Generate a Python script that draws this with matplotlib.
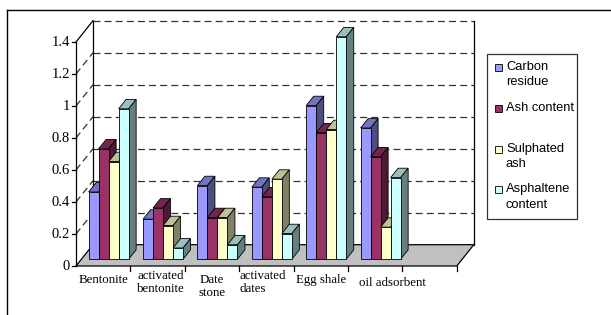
import matplotlib
matplotlib.use("Agg")
import matplotlib.pyplot as plt
from matplotlib.patches import Polygon, Rectangle
from matplotlib.lines import Line2D

# ---------------- data ----------------
categories = ["Bentonite", "activated\nbentonite", "Date\nstone", "activated\ndates", "Egg shale", "oil adsorbent"]
series_names = ["Carbon residue", "Ash content", "Sulphated ash", "Asphaltene content"]
legend_labels = ["Carbon\nresidue", "Ash content", "Sulphated\nash", "Asphaltene\ncontent"]
carbon_residue = [0.42, 0.25, 0.46, 0.45, 0.96, 0.82]
ash_content = [0.69, 0.32, 0.26, 0.39, 0.79, 0.64]
sulphated_ash = [0.61, 0.21, 0.26, 0.50, 0.81, 0.20]
asphaltene_content = [0.94, 0.07, 0.09, 0.16, 1.39, 0.51]
y_ticks = [0, 0.2, 0.4, 0.6, 0.8, 1.0, 1.2, 1.4]
y_tick_labels = ["0", "0.2", "0.4", "0.6", "0.8", "1", "1.2", "1.4"]
n_slots = 7  # category slots on the floor (last one empty)

series = [carbon_residue, ash_content, sulphated_ash, asphaltene_content]

# ---------------- style ----------------
face_c = ['#9999FF', '#993366', '#FFFFCC', '#CCFFFF']
top_c = ['#7373BF', '#73264D', '#BFBF99', '#99BFBF']
side_c = ['#4D4D80', '#4D1A33', '#808066', '#668080']

W, H = 611, 315
PX_X = 54.4   # px per category unit
PX_Y = 160.0  # px per value unit
X0, Y0 = 76, 266  # pixel of data origin (front axis, floor)
DX, DY = 17 / PX_X, 21.3 / PX_Y  # full depth offset in data units
d0, d1 = 0.32, 0.76
bw = 0.184

plt.rcParams['lines.scale_dashes'] = False
serif = ['Liberation Serif', 'DejaVu Serif']
sans = ['Liberation Sans', 'DejaVu Sans']
fs = 9.3
fs_y = 10.5

fig = plt.figure(figsize=(W / 100, H / 100), dpi=100)
ax = fig.add_axes([0, 0, 1, 1])
ax.set_xlim(-X0 / PX_X, (W - X0) / PX_X)
ax.set_ylim(-(H - Y0) / PX_Y, Y0 / PX_Y)
ax.axis('off')


def px(x, y):
    return ((x - X0) / PX_X, (Y0 - y) / PX_Y)


# outer frame (top and left visible)
fig.add_artist(Line2D([7 / W, 1], [1 - 10 / H, 1 - 10 / H], color='black', lw=1.0))
fig.add_artist(Line2D([7 / W, 7 / W], [0, 1 - 10 / H], color='black', lw=1.0))

ymax = y_ticks[-1]
xmax = n_slots
# back wall
ax.add_patch(Polygon([(DX, DY), (xmax + DX, DY), (xmax + DX, ymax + DY), (DX, ymax + DY)],
                     closed=True, facecolor='white', edgecolor='none', zorder=1))
# gridlines on back wall and side wall
grid_kw = dict(color='#333333', lw=0.9, dashes=(5, 3), zorder=2)
for v in y_ticks[1:]:
    ax.plot([DX, xmax + DX], [v + DY, v + DY], **grid_kw)
    if v < ymax:
        ax.plot([0, DX], [v, v + DY], **grid_kw)
# wall edges
ax.plot([DX, DX], [DY, ymax + DY], color='black', lw=0.9, zorder=3)
ax.plot([xmax + DX, xmax + DX], [DY, ymax + DY], color='black', lw=0.9, zorder=3)
ax.plot([0, DX], [ymax, ymax + DY], color='black', lw=0.9, zorder=3)
# floor
ax.add_patch(Polygon([(0, 0), (xmax, 0), (xmax + DX, DY), (DX, DY)], closed=True,
                     facecolor='#C0C0C0', edgecolor='black', lw=0.9, zorder=4))
# front value axis
ax.plot([0, 0], [0, ymax], color='black', lw=0.9, zorder=5)
for v, lab in zip(y_ticks, y_tick_labels):
    ax.plot([-4 / PX_X, 0], [v, v], color='black', lw=0.9, zorder=5)
    ax.text(-6 / PX_X, v, lab, ha='right', va='center', fontsize=fs_y, family=serif)
# category ticks
for i in range(1, n_slots + 1):
    ax.plot([i, i], [0, -5 / PX_Y], color='black', lw=0.9, zorder=5)

# bars
bdx, bdy = (d1 - d0) * DX, (d1 - d0) * DY
yb = d0 * DY
k = 0
for i in range(len(categories)):
    for j, vals in enumerate(series):
        v = vals[i]
        x0 = i + 0.5 - 2 * bw + j * bw + d0 * DX
        z = 10 + k * 0.1
        ax.bar([x0], [v], width=bw, bottom=yb, align='edge', color=face_c[j],
               edgecolor='black', linewidth=0.6, zorder=z + 0.02)
        ax.add_patch(Polygon([(x0, yb + v), (x0 + bw, yb + v), (x0 + bw + bdx, yb + v + bdy),
                              (x0 + bdx, yb + v + bdy)], closed=True, facecolor=top_c[j],
                             edgecolor='black', lw=0.6, zorder=z))
        ax.add_patch(Polygon([(x0 + bw, yb), (x0 + bw + bdx, yb + bdy), (x0 + bw + bdx, yb + v + bdy),
                              (x0 + bw, yb + v)], closed=True, facecolor=side_c[j],
                             edgecolor='black', lw=0.6, zorder=z + 0.01))
        k += 1

# category labels
label_dx = [0, 3, 0, -4, 0, 17]   # px fine offsets
label_top = [274, 270, 274, 270, 274, 277]  # px top of label text
label_align = ['center', 'center', 'center', 'left', 'center', 'center']
for i, lab in enumerate(categories):
    cx = X0 + PX_X * (i + 0.5) + label_dx[i]
    x, y = px(cx, label_top[i])
    ax.text(x, y, lab, ha='center', va='top', fontsize=fs, family=serif, linespacing=1.15,
            multialignment=label_align[i])

# legend
lx0, ly0, lx1, ly1 = 487.3, 54.3, 577.3, 218.7
fig.add_artist(Rectangle((lx0 / W, 1 - ly1 / H), (lx1 - lx0) / W, (ly1 - ly0) / H,
                         transform=fig.transFigure, facecolor='white', edgecolor='#333333', lw=0.9))
entry_y = [67.2, 108.2, 149.2, 189.5]
for j, lab in enumerate(legend_labels):
    cy = entry_y[j]
    fig.add_artist(Rectangle((495 / W, 1 - (cy + 3.3) / H), 6.5 / W, 6.5 / H,
                             transform=fig.transFigure, facecolor=face_c[j],
                             edgecolor='black', lw=0.6))
    for li, line in enumerate(lab.split('\n')):
        fig.text(506 / W, 1 - (cy - 0.5 + li * 15.6) / H, line, ha='left', va='center',
                 fontsize=fs, family=sans)

fig.savefig('out.png', dpi=100)
